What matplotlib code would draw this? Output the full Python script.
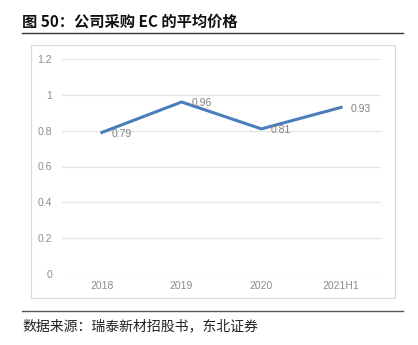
import numpy as np
import matplotlib.pyplot as plt
from matplotlib.patches import Rectangle
from matplotlib.lines import Line2D

plt.rcParams['font.family'] = ['Noto Sans CJK SC', 'DejaVu Sans']

years = ['2018', '2019', '2020', '2021H1']
price = [0.79, 0.96, 0.81, 0.93]
yticks = [0, 0.2, 0.4, 0.6, 0.8, 1.0, 1.2]
ytick_labels = ['0', '0.2', '0.4', '0.6', '0.8', '1', '1.2']

fig = plt.figure(figsize=(4.18, 3.45), dpi=100)

# outer chart frame
fig.patches.append(Rectangle((31/418, 1-298/345), 364/418, 253/345,
                             transform=fig.transFigure, fill=False,
                             edgecolor='#d9d9d9', linewidth=0.8))
# rules above and below
fig.lines.append(Line2D([22/418, 403/418], [1-33/345, 1-33/345],
                        transform=fig.transFigure, color='#333333', linewidth=1.0))
fig.lines.append(Line2D([22/418, 403/418], [1-311/345, 1-311/345],
                        transform=fig.transFigure, color='#555555', linewidth=1.0))

fig.text(22/418, 1-22/345, '图 50：公司采购 EC 的平均价格', fontsize=11,
         fontweight='bold', va='center', ha='left', color='#111111')
fig.text(22/418, 1-326/345, '数据来源：瑞泰新材招股书，东北证券', fontsize=10,
         va='center', ha='left', color='#222222')

ax = fig.add_axes([62/418, 1-274/345, 319/418, 215/345])
x = np.arange(len(years))
ax.plot(x, price, color='#4a7ebb', linewidth=2.2, solid_joinstyle='miter')
for xi, v in zip(x, price):
    ax.annotate(f'{v:.2f}', (xi, v), xytext=(7, -1), textcoords='offset points',
                ha='left', va='center', fontsize=7.5, color='#7f7f7f',
                family='Liberation Sans')

ax.set_xlim(-0.5, len(years) - 0.5)
ax.set_ylim(0, 1.2)
ax.set_yticks(yticks)
ax.set_yticklabels(ytick_labels)
ax.set_xticks(x)
ax.set_xticklabels(years)
for lab in ax.get_xticklabels() + ax.get_yticklabels():
    lab.set_fontfamily('Liberation Sans')
    lab.set_fontsize(7.5)
    lab.set_color('#8c8c8c')
ax.tick_params(length=0, pad=7)
ax.tick_params(axis='x', pad=5)
ax.grid(axis='y', color='#e6e6e6', linewidth=1.0)
ax.set_axisbelow(True)
for s in ax.spines.values():
    s.set_visible(False)

fig.savefig('out.png', dpi=100)
